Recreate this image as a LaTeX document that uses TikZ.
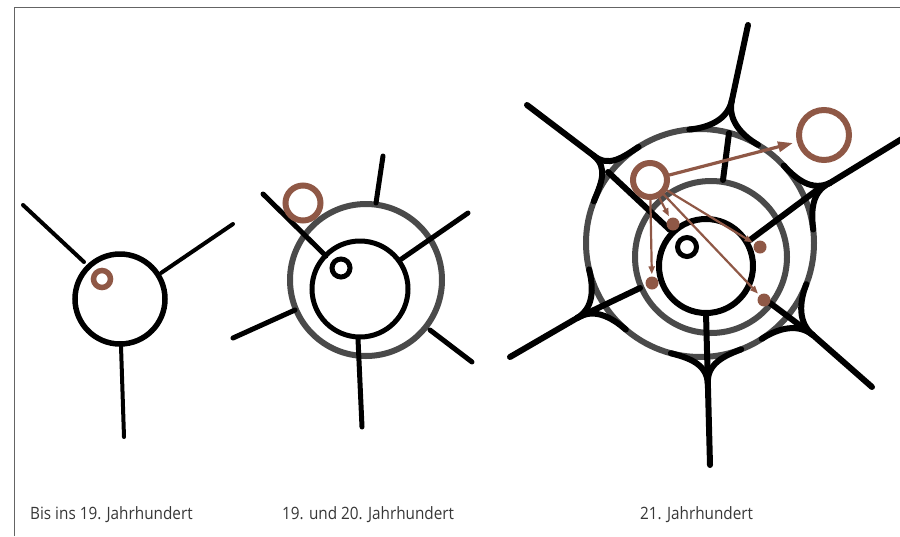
\documentclass[tikz,border=0pt]{standalone}
\usepackage{fontspec}
\usepackage{graphicx}
\setmainfont{Open Sans}
\usetikzlibrary{arrows.meta}
\definecolor{brn}{RGB}{143,88,70}
\definecolor{rng}{RGB}{74,74,74}
\definecolor{txt}{RGB}{55,55,55}
\definecolor{frm}{RGB}{100,100,100}
\newcommand\juncarcs[2]{%
  \draw[roadthree] (#1:#2) .. controls ({#1}:{#2-20}) and ({#1+18-9.5}:115.6) .. ({#1+18}:114);
  \draw[roadthree] (#1:#2) .. controls ({#1}:{#2-20}) and ({#1-18+9.5}:115.6) .. ({#1-18}:114);
}
\begin{document}
\begin{tikzpicture}[x=1pt,y=-1pt,line cap=round,
  roadone/.style={black,line width=4pt},
  roadtwo/.style={black,line width=5pt},
  roadthree/.style={black,line width=6pt},
  grayring/.style={rng,line width=6pt},
  bring/.style={circle,draw=brn,line width=6pt,inner sep=0pt},
  bdot/.style={circle,fill=brn,inner sep=0pt,minimum size=13pt},
  bigarrow/.style={brn,line width=3.2pt,-{Triangle[length=15pt,width=10pt]}},
  thinarrow/.style={brn,line width=2.2pt,-{Triangle[length=8pt,width=6pt]},shorten >=2pt},
  lbl/.style={inner sep=0pt,text=txt,font=\fontsize{17}{20}\selectfont}]
\useasboundingbox (0,0) rectangle (900,536);
% frame
\draw[frm,line width=1pt,line cap=butt] (14,536) -- (14,7) -- (900,7);

% ---------- diagram 1 ----------
\draw[roadone] (23,205) -- (84,262);
\draw[roadone] (233,224) -- (161,273);
\draw[roadone] (124,437) -- (121,346);
\draw[black,line width=5.5pt] (120,299) circle[radius=45pt];
\node[bring,line width=5.5pt,minimum size=17pt] (r1) at (102,279) {};

% ---------- diagram 2 ----------
\draw[grayring] (366,280) circle[radius=76pt];
\draw[roadtwo] (263,194) -- (326,256);
\draw[roadtwo] (383,156) -- (376,203);
\draw[roadtwo] (468,213) -- (400,260);
\draw[roadtwo] (233,338) -- (295,310);
\draw[roadtwo] (358,339) -- (362,427);
\draw[roadtwo] (430,330) -- (472,362);
\draw[black,line width=5pt] (360,289) circle[radius=48pt];
\draw[black,line width=5pt] (341,268) circle[radius=9pt];
\node[bring,minimum size=35pt] (r2) at (303,203) {};

% ---------- diagram 3 ----------
\draw[grayring] (700,243) circle[radius=114pt];
\draw[grayring] (711,257) circle[radius=76pt];
\begin{scope}[shift={(700,243)}]
  \coordinate (Jt) at (-77.4:146);
  \coordinate (Jul) at (-140.6:138);
  \coordinate (Jur) at (-24.8:143);
  \coordinate (Jll) at (148.6:144);
  \coordinate (Jb) at (86.8:141);
  \coordinate (Jlr) at (39.2:146);
  \juncarcs{-77.4}{146}
  \juncarcs{-140.6}{138}
  \juncarcs{-24.8}{143}
  \juncarcs{148.6}{144}
  \juncarcs{86.8}{141}
  \juncarcs{39.2}{146}
\end{scope}
\coordinate (Et) at (748,25);
\coordinate (Eul) at (527,105);
\coordinate (Eur) at (905,137);
\coordinate (Ell) at (510,357);
\coordinate (Eb) at (710,465);
\coordinate (Elr) at (872,387);
\draw[roadthree] (Et) -- (Jt);
\draw[roadthree] (729,133) -- (723,180);
\draw[roadthree] (Eul) -- (Jul);
\draw[roadthree] (608,172) -- (670,230);
\draw[roadthree] (Eur) -- (Jur);
\draw[roadthree] (817,190) -- (750,240);
\draw[roadthree] (Ell) -- (Jll) -- (640,288);
\draw[roadthree] (Eb) -- (Jb) -- (706,313);
\draw[roadthree] (Elr) -- (Jlr) -- (770,303);
\draw[black,line width=6pt] (706,266) circle[radius=47pt];
\draw[black,line width=5pt] (687,247) circle[radius=9.5pt];

\node[bring,minimum size=34pt] (src) at (650,180) {};
\node[bring,minimum size=50pt] (big) at (824,135) {};
\node[bdot] (d1) at (652,283) {};
\node[bdot] (d2) at (673,224) {};
\node[bdot] (d3) at (760,247) {};
\node[bdot] (d4) at (764,300) {};
\draw[bigarrow,shorten >=4pt] (src) -- (big);
\draw[thinarrow] (src) -- (d1);
\draw[thinarrow] (src) -- (d2);
\draw[thinarrow] (src) -- (d3);
\draw[thinarrow] (src) -- (d4);

% labels
\node[lbl,anchor=base west] (l1) at (30,519) {\scalebox{0.9}[1]{Bis ins 19. Jahrhundert}};
\node[lbl,anchor=base west] (l2) at (282,519) {\scalebox{0.9}[1]{19. und 20. Jahrhundert}};
\node[lbl,anchor=base west] (l3) at (640,519) {\scalebox{0.9}[1]{21. Jahrhundert}};
\end{tikzpicture}
\end{document}
